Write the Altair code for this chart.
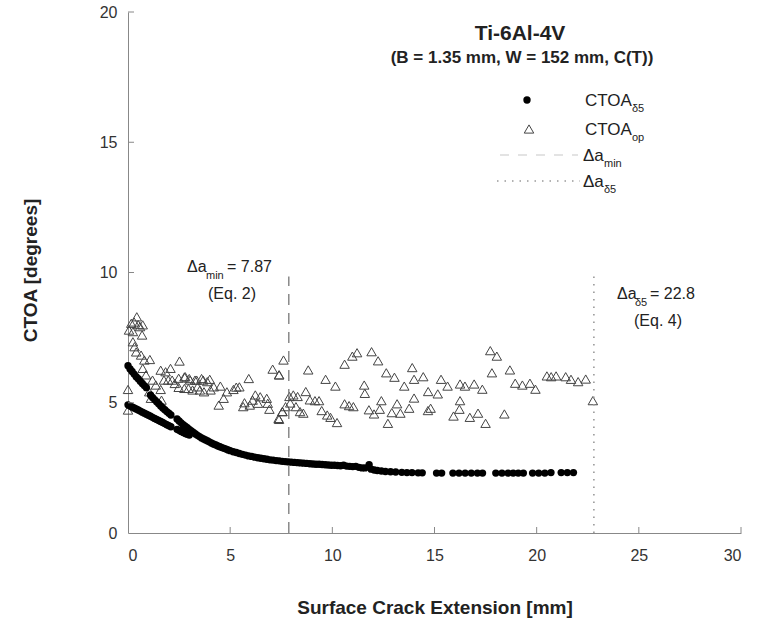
import altair as alt
import pandas as pd

# ---------------- data ----------------
# CTOA_op (open triangles)
op_x = [0.43, 0.16, 0.30, 0.50, 0.72, 0.05, 0.24, 0.59, 0.69, 0.24, 0.32, 0.40, 0.64, 0.80, 1.07,
        2.52, 0.72, 0.88, 1.60, 2.08, 1.84, 0.00, 0.00, 1.20, 1.36, 1.76, 2.16, 2.48, 2.80, 3.04,
        3.36, 3.68, 1.12, 1.60, 2.48, 2.96, 3.52, 1.04, 2.76, 3.00, 3.28, 3.60, 3.88, 4.20, 4.52,
        4.84, 5.16, 5.45, 5.91, 6.23, 6.47, 6.79, 7.08, 7.40, 4.44, 4.68, 5.64, 5.96, 6.36, 6.84,
        6.92, 7.37, 7.56, 1.97, 2.29, 2.76, 3.16, 3.40, 3.72, 4.04, 1.64, 4.00, 5.30, 5.70, 6.10,
        7.61, 7.39, 8.82, 9.67, 10.15, 10.60, 10.98, 11.21, 11.92, 12.24, 12.64, 13.04, 11.56, 11.59,
        13.91, 14.00, 14.45, 13.52, 14.69, 15.16, 15.32, 15.64, 16.25, 16.49, 16.94, 17.34, 17.73,
        18.05, 17.81, 18.69, 18.95, 19.30, 19.67, 19.94, 20.50, 20.71, 20.95, 21.42, 21.68, 22.03,
        22.40, 22.75, 7.39, 7.55, 7.71, 7.90, 8.09, 8.30, 7.94, 8.22, 8.42, 8.58, 8.70, 8.90, 9.15,
        9.35, 9.48, 9.75, 9.91, 10.23, 10.60, 10.82, 11.03, 11.79, 12.04, 12.32, 12.40, 12.72, 12.91,
        13.17, 13.33, 13.76, 14.00, 14.68, 14.81, 15.93, 16.25, 16.22, 16.73, 17.13, 17.50, 18.42]
op_y = [8.30, 8.05, 8.10, 8.00, 7.99, 7.79, 7.73, 7.92, 7.60, 7.34, 7.15, 6.95, 6.83, 6.64, 6.66,
        6.60, 6.32, 6.07, 6.25, 6.32, 6.19, 5.51, 4.72, 5.87, 5.68, 5.87, 5.87, 5.94, 6.00, 5.87,
        5.87, 5.87, 5.17, 5.51, 5.59, 5.55, 5.49, 5.42, 5.99, 5.93, 5.87, 5.93, 5.81, 5.61, 5.64,
        5.42, 5.51, 5.61, 5.93, 5.30, 5.23, 5.17, 6.29, 6.07, 4.91, 5.17, 4.85, 4.91, 4.98, 4.98,
        4.75, 4.40, 4.66, 5.87, 5.74, 5.55, 5.49, 5.61, 5.42, 5.49, 5.10, 5.90, 5.60, 5.00, 5.10,
        6.64, 6.07, 6.26, 5.90, 5.64, 6.48, 6.79, 6.92, 6.96, 6.61, 6.15, 5.98, 5.68, 5.36,
        6.35, 5.90, 6.00, 5.64, 5.43, 5.34, 5.90, 5.64, 5.72, 5.64, 5.72, 5.52, 7.00,
        6.79, 6.15, 6.26, 5.75, 5.68, 5.75, 5.52, 6.03, 6.00, 6.03, 6.00, 5.90, 5.81,
        5.91, 5.08, 4.36, 4.66, 4.85, 5.24, 5.30, 5.24, 4.99, 4.85, 4.66, 4.60, 5.43, 5.11, 5.08,
        5.08, 4.70, 4.53, 4.44, 4.24, 4.96, 4.89, 4.85, 4.73, 4.57, 4.75, 5.08, 4.21, 4.62,
        4.96, 4.60, 4.79, 5.18, 4.70, 4.79, 4.49, 5.08, 4.75, 4.44, 4.60, 4.21, 4.57]

# CTOA_delta5 (filled dots)
d5_x = [0.0, 0.1, 0.2, 0.3, 0.4, 0.5, 0.6, 0.7, 0.8, 0.9,
        1.1, 1.2, 1.3, 1.4, 1.5, 1.6, 1.7, 1.8, 1.9, 2.0, 2.1,
        2.4, 2.5, 2.6, 2.7, 2.8, 2.9, 3.0, 3.1, 3.2, 3.3, 3.4, 3.5,
        0.0, 0.1, 0.2, 0.3, 0.4, 0.5, 0.6, 0.7, 0.8, 0.9, 1.0, 1.1, 1.2, 1.3, 1.4, 1.5, 1.6,
        1.7, 1.8, 1.9, 2.0, 2.1, 2.4, 2.5, 2.6, 2.7, 2.8, 2.9, 3.0,
        3.6, 3.7, 3.8, 3.9, 4.0, 4.1, 4.2, 4.3, 4.4, 4.5, 4.6, 4.7, 4.8, 4.9, 5.0, 5.15, 5.3,
        5.45, 5.6, 5.75, 5.9, 6.05, 6.2, 6.35, 6.5, 6.65, 6.8, 6.95, 7.1, 7.25, 7.4, 7.55, 7.7,
        7.85, 8.0, 8.15, 8.3, 8.45, 8.6, 8.75, 8.9, 9.05, 9.2, 9.35, 9.5, 9.65, 9.8, 9.95, 10.1,
        10.25, 10.4, 10.55, 10.7, 10.85, 11.0, 11.15, 11.3, 11.45, 11.6, 11.8, 11.9, 12.05, 12.2,
        12.4, 12.6, 12.85, 13.1, 13.4, 13.65, 13.9, 14.2, 14.4, 15.1, 15.35, 15.9, 16.2, 16.5,
        16.8, 17.1, 17.35, 18.0, 18.3, 18.6, 18.85, 19.1, 19.35, 19.8, 20.1, 20.4, 20.7, 21.2,
        21.5, 21.8]
d5_y = [6.42, 6.30, 6.20, 6.10, 6.00, 5.92, 5.83, 5.74, 5.66, 5.58,
        5.30, 5.20, 5.12, 5.04, 4.96, 4.88, 4.80, 4.73, 4.66, 4.60, 4.53,
        4.38, 4.30, 4.23, 4.16, 4.10, 4.04, 3.98, 3.92, 3.86, 3.80, 3.75, 3.70,
        4.92, 4.88, 4.84, 4.80, 4.76, 4.72, 4.68, 4.64, 4.60, 4.56, 4.52, 4.48, 4.44, 4.40, 4.36,
        4.32, 4.28, 4.24, 4.20, 4.16, 4.12, 4.08, 3.98, 3.94, 3.90, 3.86, 3.82, 3.79, 3.76,
        3.65, 3.61, 3.57, 3.53, 3.49, 3.45, 3.41, 3.38, 3.34, 3.31, 3.28, 3.25, 3.22, 3.19, 3.16,
        3.12, 3.09, 3.05, 3.02, 2.99, 2.96, 2.94, 2.91, 2.89, 2.87, 2.85, 2.83, 2.81, 2.80, 2.78,
        2.77, 2.75, 2.74, 2.73, 2.72, 2.71, 2.70, 2.69, 2.68, 2.67, 2.66, 2.65, 2.64, 2.64, 2.63,
        2.62, 2.61, 2.60, 2.60, 2.59, 2.58, 2.60, 2.57, 2.56, 2.55, 2.56, 2.52, 2.50, 2.50, 2.62,
        2.45, 2.42, 2.40, 2.38, 2.36, 2.35, 2.34, 2.33, 2.32, 2.32, 2.31, 2.31, 2.30, 2.30, 2.30,
        2.30, 2.30, 2.30, 2.30, 2.30, 2.30, 2.30, 2.30, 2.30, 2.30, 2.30, 2.30, 2.30, 2.30, 2.32,
        2.32, 2.32, 2.32]

da_min = 7.87
da_d5 = 22.8
da_min_top = 9.85
da_d5_top = 9.9
x_ticks = [0, 5, 10, 15, 20, 25, 30]
y_ticks = [0, 5, 10, 15, 20]

# ---------------- chart ----------------
FONT = "Liberation Sans"
W, H = 613, 521

op_df = pd.DataFrame({"x": op_x, "y": op_y})
d5_df = pd.DataFrame({"x": d5_x, "y": d5_y})

xs = alt.Scale(domain=[0, 30], nice=False)
ys = alt.Scale(domain=[0, 20], nice=False)

xax = alt.Axis(values=x_ticks, title="Surface Crack Extension [mm]", titleY=74,
               titleBaseline="middle", labelPadding=14)
yax = alt.Axis(values=y_ticks, title="CTOA [degrees]", titleX=-98, titleY=258,
               titleBaseline="middle", titleAlign="center", labelPadding=11)

TRI_SIZE = 90
DOT_SIZE = 54

tri = alt.Chart(op_df).mark_point(shape="triangle-up", filled=False, stroke="#444",
                                  strokeWidth=1, size=TRI_SIZE, opacity=1).encode(
    x=alt.X("x:Q", scale=xs, axis=xax),
    y=alt.Y("y:Q", scale=ys, axis=yax),
)
dots = alt.Chart(d5_df).mark_circle(color="black", size=DOT_SIZE, opacity=1).encode(
    x=alt.X("x:Q", scale=xs), y=alt.Y("y:Q", scale=ys))

vlines = pd.DataFrame({"x": [da_min], "y": [0], "y2": [da_min_top]})
vline2 = pd.DataFrame({"x": [da_d5], "y": [0], "y2": [da_d5_top]})
dash = alt.Chart(vlines).mark_rule(color="#777", strokeDash=[11, 8], strokeWidth=1.3).encode(
    x=alt.X("x:Q", scale=xs), y=alt.Y("y:Q", scale=ys), y2="y2:Q")
dotl = alt.Chart(vline2).mark_rule(color="#999", strokeDash=[1.5, 6], strokeWidth=1.6).encode(
    x=alt.X("x:Q", scale=xs), y=alt.Y("y:Q", scale=ys), y2="y2:Q")

ytk = alt.Chart(pd.DataFrame({"v": y_ticks[1:]})).mark_rule(color="#888").encode(
    y=alt.Y("v:Q", scale=ys), x=alt.value(0), x2=alt.value(6))
xtk = alt.Chart(pd.DataFrame({"v": x_ticks[1:]})).mark_rule(color="#888").encode(
    x=alt.X("v:Q", scale=xs), y=alt.value(H), y2=alt.value(H - 6))

one = pd.DataFrame({"a": [0]})


def txt(s, x, y, size=16, bold=False, align="left", color="#222"):
    return alt.Chart(one).mark_text(text=s, font=FONT, fontSize=size,
                                    fontWeight="bold" if bold else "normal",
                                    align=align, baseline="alphabetic", color=color).encode(
        x=alt.value(x), y=alt.value(y))


texts = [
    txt("Ti-6Al-4V", 392, 28, size=21, bold=True, align="center"),
    txt("(B = 1.35 mm, W = 152 mm, C(T))", 394, 51, size=17, bold=True, align="center"),
    # legend
    txt("CTOA", 457, 94, size=17), txt("δ5", 504, 100, size=11),
    txt("CTOA", 457, 123, size=17), txt("op", 504, 129, size=11),
    txt("Δa", 455, 149, size=17), txt("min", 476, 155, size=11),
    txt("Δa", 455, 175, size=17), txt("δ5", 476, 181, size=11),
    # annotations
    txt("Δa", 59, 260), txt("min", 78, 267, size=11), txt("= 7.87", 99, 260),
    txt("(Eq. 2)", 104, 287, align="center"),
    txt("Δa", 489, 287), txt("δ5", 507, 294, size=11), txt("= 22.8", 522, 287),
    txt("(Eq. 4)", 530, 314, align="center"),
]

leg_dot = alt.Chart(one).mark_circle(color="black", size=DOT_SIZE, opacity=1).encode(
    x=alt.value(399), y=alt.value(88))
leg_tri = alt.Chart(one).mark_point(shape="triangle-up", filled=False, stroke="#444",
                                    strokeWidth=1, size=TRI_SIZE, opacity=1).encode(
    x=alt.value(401), y=alt.value(117))
leg_dash = alt.Chart(one).mark_rule(color="#c8c8c8", strokeDash=[9, 9], strokeWidth=1.2).encode(
    x=alt.value(372), x2=alt.value(450), y=alt.value(143))
leg_dot2 = alt.Chart(one).mark_rule(color="#999", strokeDash=[1.5, 6], strokeWidth=1.6).encode(
    x=alt.value(369), x2=alt.value(452), y=alt.value(169))

chart = alt.layer(tri, dots, dash, dotl, ytk, xtk, leg_dot, leg_tri, leg_dash, leg_dot2,
                  *texts).properties(
    width=W, height=H,
    padding={"left": 128, "top": 12, "right": 22, "bottom": 90},
    autosize=alt.AutoSizeParams(type="none"),
).configure_view(stroke=None).configure_axis(
    grid=False, ticks=False, domainColor="#888", domainWidth=1,
    labelFont=FONT, labelFontSize=16, labelColor="#333",
    titleFont=FONT, titleFontSize=19, titleFontWeight="bold", titleColor="#222",
)

chart.save("out.html", embed_options={"renderer": "svg", "actions": False})
